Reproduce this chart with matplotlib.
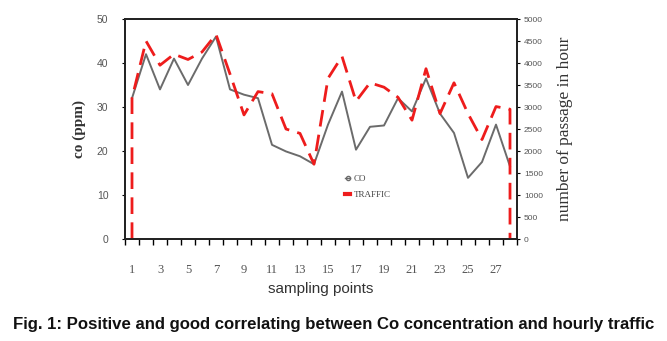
import numpy as np
import matplotlib
matplotlib.use("Agg")
import matplotlib.pyplot as plt
from matplotlib.lines import Line2D

# data
points = list(range(1, 29))
co = [32, 42, 34, 41, 35, 41, 46, 34, 32.8, 32, 21.4, 19.9, 18.8, 17,
      26, 33.5, 20.3, 25.5, 25.8, 32, 29, 36.5, 28.5, 24.1, 13.9, 17.5, 26, 16.5]
traffic = [3200, 4500, 3950, 4200, 4080, 4250, 4650, 3750, 2820, 3350, 3300, 2500, 2400, 1700,
           3650, 4150, 3130, 3550, 3450, 3220, 2700, 3870, 2850, 3550, 2850, 2260, 3010, 2950]
# traffic outline drops to zero at both ends
traffic_x = [points[0]] + points + [points[-1]]
traffic_y = [0] + traffic + [0]
odd_labels = [str(p) for p in points if p % 2 == 1]

plt.rcParams["font.family"] = ["Liberation Serif", "DejaVu Serif"]

fig = plt.figure(figsize=(6.67, 3.41), dpi=100)
ax = fig.add_axes([125 / 667, 1 - 239 / 341, 392 / 667, 220 / 341])
ax2 = ax.twinx()

ax.plot(points, co, color="#6b6b6b", lw=1.4, zorder=3)
ax2.plot(traffic_x, traffic_y, color="#ee1c1c", lw=2.0, ls=(0, (6, 3)), zorder=2)

ax.set_xlim(0.5, 28.5)
ax.set_ylim(0, 50)
ax2.set_ylim(0, 5000)

ax.set_xticks(np.arange(0.5, 29, 1))
ax.set_xticklabels([])
ax.tick_params(axis="x", which="major", length=4, width=1, direction="out")
ax.set_xticks([p for p in points if p % 2 == 1], minor=True)
ax.set_xticklabels(odd_labels, minor=True, fontsize=9, color="#555555")
ax.tick_params(axis="x", which="minor", length=0, pad=18)

ax.set_yticks(np.arange(0, 51, 10))
ax.tick_params(axis="y", length=2, pad=10, labelsize=7.5, labelcolor="#555555")
for lab in ax.get_yticklabels():
    lab.set_family("Liberation Sans")

ax2.set_yticks(np.arange(0, 5001, 500))
ax2.tick_params(axis="y", length=2, pad=3, labelsize=6, labelcolor="#555555")
for lab in ax2.get_yticklabels():
    lab.set_family("Liberation Sans")

for a in (ax, ax2):
    for s in a.spines.values():
        s.set_linewidth(1.3)
        s.set_color("#222222")

ax.set_ylabel("co (ppm)", fontsize=11, fontweight="bold", color="#333333", labelpad=8)
ax2.set_ylabel("number of passage in hour", fontsize=12.5, color="#333333",
               rotation=90, labelpad=10)
ax.set_xlabel("sampling points", fontsize=11, color="#333333",
              family="Liberation Sans", labelpad=4)

handles = [Line2D([], [], color="#6b6b6b", lw=1, marker="o", ms=3, mfc="none"),
           Line2D([], [], color="#ee1c1c", lw=3)]
leg = ax.legend(handles, ["CO", "TRAFFIC"], loc="upper left",
                bbox_to_anchor=(0.54, 0.33), frameon=False, fontsize=6.5,
                handlelength=0.6, handletextpad=0.4, labelspacing=0.9)
for t in leg.get_texts():
    t.set_color("#444444")

fig.text(0.5, 1 - 325 / 341,
         "Fig. 1: Positive and good correlating between Co concentration and hourly traffic",
         ha="center", va="center", fontsize=12.1, fontweight="bold",
         family="Liberation Sans", color="#111111")

fig.savefig("out.png", dpi=100)
